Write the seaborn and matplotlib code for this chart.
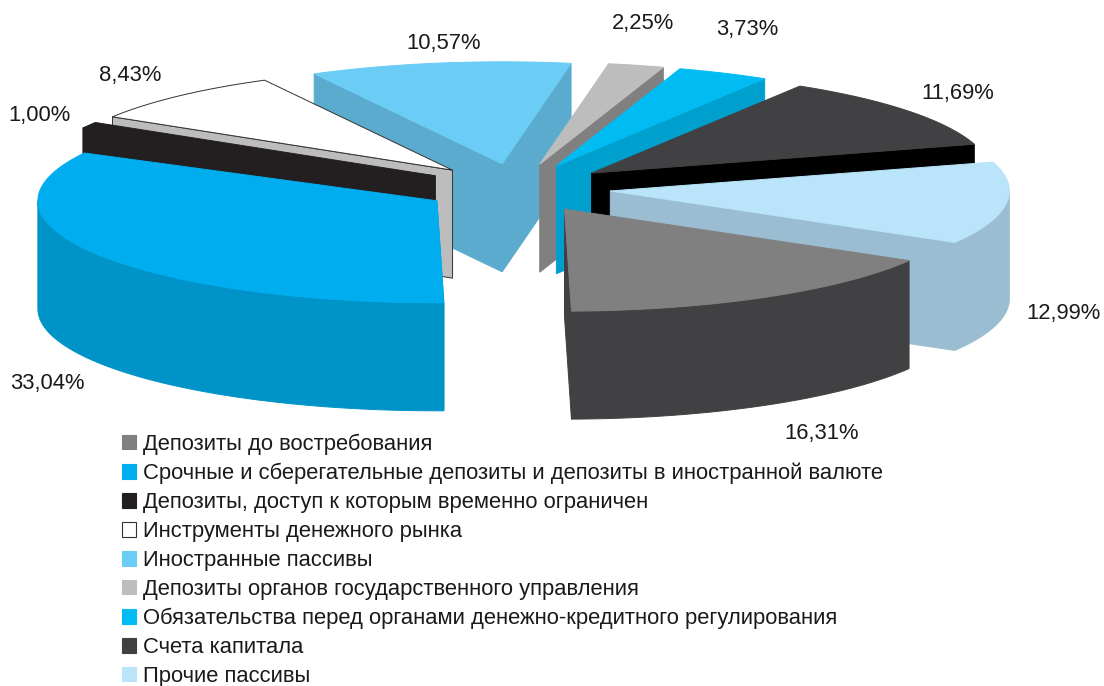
import matplotlib
matplotlib.use('Agg')
import matplotlib.pyplot as plt
import numpy as np
import seaborn as sns
from matplotlib.patches import Patch, Polygon

names = [
    'Депозиты до востребования',
    'Срочные и сберегательные депозиты и депозиты в иностранной валюте',
    'Депозиты, доступ к которым временно ограничен',
    'Инструменты денежного рынка',
    'Иностранные пассивы',
    'Депозиты органов государственного управления',
    'Обязательства перед органами денежно-кредитного регулирования',
    'Счета капитала',
    'Прочие пассивы',
]
shares = [16.31, 33.04, 1.00, 8.43, 10.57, 2.25, 3.73, 11.69, 12.99]

top_colors = ['#808080', '#00ADEF', '#231F20', '#FFFFFF', '#6BCDF6',
              '#BDBDBD', '#00BCF2', '#414042', '#B9E4FA']
wall_colors = ['#414042', '#0093C8', '#231F20', '#BDBDBD', '#5BABCE',
               '#808080', '#00A0CE', '#000000', '#9ABDD1']
label_xy = [(822, 434), (47, 383.5), (40, 116), (130, 76), (444, 43),
            (643, 23), (747, 30), (958, 93), (1064, 314)]

# pie geometry, in pixels of the output picture
CENTER = (517, 188)
RX, RY = 399, 102
EXPLODE_X, EXPLODE_Y = 94, 24.5
DEPTH = 108
START = 89 - shares[0] * 3.6
DRAW_ORDER = [4, 5, 6, 7, 8, 3, 2, 1, 0]


def rim(apex, angles):
    rad = np.radians(angles)
    return np.column_stack([apex[0] + RX * np.cos(rad), apex[1] + RY * np.sin(rad)])


def wall(ax, pts, color, edge):
    lower = pts[::-1] + [0, DEPTH]
    ax.add_patch(Polygon(np.vstack([pts, lower]), closed=True, facecolor=color,
                         edgecolor=edge, linewidth=0.7))


def draw_slice(ax, i, t0, t1):
    mid = np.radians((t0 + t1) / 2)
    apex = (CENTER[0] + EXPLODE_X * np.cos(mid), CENTER[1] + EXPLODE_Y * np.sin(mid))
    color = wall_colors[i]
    edge = '#333333' if i == 3 else color

    if np.cos(np.radians(t0)) < 0.03:
        wall(ax, np.vstack([apex, rim(apex, [t0])]), color, edge)
    if np.cos(np.radians(t1)) > -0.03:
        wall(ax, np.vstack([apex, rim(apex, [t1])]), color, edge)

    # outer side, only the front half of the ellipse shows
    for lo, hi in [(0, 180), (360, 540)]:
        a, b = max(t0, lo), min(t1, hi)
        if b > a:
            wall(ax, rim(apex, np.linspace(a, b, 60)), color, edge)

    pts = np.vstack([apex, rim(apex, np.linspace(t0, t1, 80))])
    ax.add_patch(Polygon(pts, closed=True, facecolor=top_colors[i],
                         edgecolor='#333333' if i == 3 else top_colors[i], linewidth=0.7))


sns.set_theme(style='white')
plt.rcParams['font.family'] = ['Liberation Sans', 'DejaVu Sans']

fig, ax = plt.subplots(figsize=(11.04, 6.86), dpi=100)
fig.subplots_adjust(0, 0, 1, 1)
ax.set_xlim(0, 1104)
ax.set_ylim(686, 0)

edges = START + np.cumsum([0] + shares) * 3.6
for i in DRAW_ORDER:
    draw_slice(ax, i, edges[i], edges[i + 1])

for share, (x, y) in zip(shares, label_xy):
    ax.text(x, y, f'{share:.2f}%'.replace('.', ','), ha='center', va='center',
            fontsize=15.8, color='#1a1a1a')

handles = [Patch(facecolor=c, edgecolor='#333333' if c == '#FFFFFF' else c, linewidth=0.8)
           for c in top_colors]
ax.legend(handles, names, loc='upper left', bbox_to_anchor=(122 / 1104, 1 - 433.5 / 686),
          frameon=False, fontsize=15.8, handlelength=0.66, handleheight=0.66,
          handletextpad=0.3, labelspacing=0.36, borderpad=0, borderaxespad=0,
          labelcolor='#1a1a1a')

ax.axis('off')
sns.despine(left=True, bottom=True)
fig.savefig('out.png', dpi=100, facecolor='white')
